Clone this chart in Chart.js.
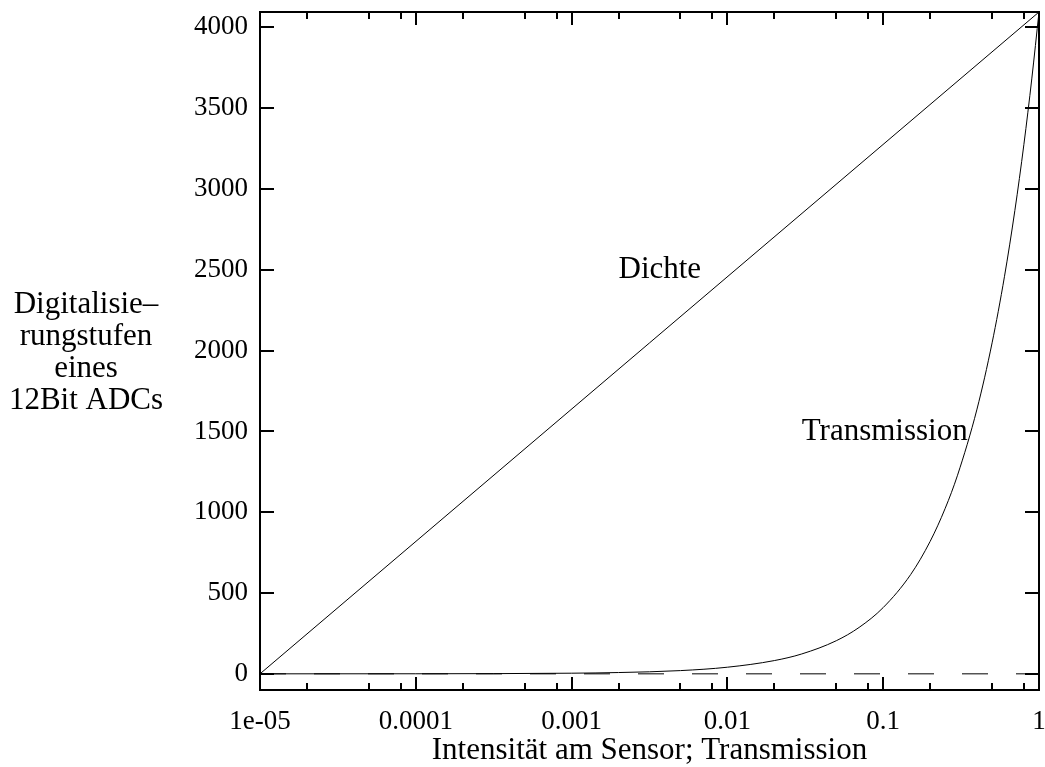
<!DOCTYPE html>
<html>
<head>
<meta charset="utf-8">
<script src="https://cdn.jsdelivr.net/npm/chart.js@4"></script>
<style>
    html, body { margin: 0; padding: 0; background: #fff; }
    #wrap { width: 1045px; height: 767px; }
</style>
</head>
<body>
<div id="wrap"><canvas id="chart" width="1045" height="767"></canvas></div>
<script>
// Axis ticks
const xTicks = [1e-5, 2e-5, 5e-5, 8e-5, 1e-4, 2e-4, 5e-4, 8e-4, 1e-3, 2e-3, 5e-3, 8e-3,
                1e-2, 2e-2, 5e-2, 8e-2, 1e-1, 2e-1, 5e-1, 8e-1, 1];
const xMajor = [1e-5, 1e-4, 1e-3, 1e-2, 1e-1, 1];
const xTickLabels = ['1e-05', '0.0001', '0.001', '0.01', '0.1', '1'];
const yTicks = [0, 500, 1000, 1500, 2000, 2500, 3000, 3500, 4000];

// Dichte (straight line on the log axis)
const dichteX = [1e-5, 1];
const dichteY = [0, 4095];

// Transmission, values
const transX = [1e-5, 1e-4, 1e-3, 0.002, 0.005, 0.01, 0.02, 0.03, 0.05, 0.07, 0.1,
                0.15, 0.2, 0.25, 0.3, 0.4, 0.5, 0.6, 0.7, 0.8, 0.9, 1];
const transY = [0, 0.4, 4, 8, 20, 41, 82, 123, 205, 287, 410,
                614, 819, 1024, 1229, 1638, 2048, 2457, 2867, 3276, 3686, 4095];

// zero line
const zeroX = [1e-5, 1];
const zeroY = [0, 0];

const yTitleLines = ['Digitalisie\u2013', 'rungstufen', 'eines', '12Bit ADCs'];
const curveLabels = [
    { text: 'Dichte', x: 0.002, y: 2500 },
    { text: 'Transmission', x: 0.03, y: 1500 }
];

const FONT = '"Liberation Serif", "DejaVu Serif", serif';
const FS_TICK = 27;
const FS_TEXT = 31;

function pts(xs, ys) {
    return xs.map((x, i) => ({ x: x, y: ys[i] }));
}

const framePlugin = {
    id: 'frame',
    afterDraw(chart) {
        const ctx = chart.ctx;
        const a = chart.chartArea;
        const xs = chart.scales.x;
        const ys = chart.scales.y;
        ctx.save();
        ctx.strokeStyle = '#000';
        ctx.lineWidth = 2;
        ctx.strokeRect(a.left, a.top, a.right - a.left, a.bottom - a.top);

        ctx.beginPath();
        xs.ticks.forEach(t => {
            const px = Math.round(xs.getPixelForValue(t.value));
            const len = xMajor.includes(t.value) ? 13 : 7;
            ctx.moveTo(px, a.bottom);
            ctx.lineTo(px, a.bottom - len);
            ctx.moveTo(px, a.top);
            ctx.lineTo(px, a.top + len);
        });
        ys.ticks.forEach(t => {
            const py = Math.round(ys.getPixelForValue(t.value));
            ctx.moveTo(a.left, py);
            ctx.lineTo(a.left + 14, py);
            ctx.moveTo(a.right, py);
            ctx.lineTo(a.right - 14, py);
        });
        ctx.stroke();

        // curve labels
        ctx.fillStyle = '#000';
        ctx.font = FS_TEXT + 'px ' + FONT;
        ctx.textAlign = 'left';
        ctx.textBaseline = 'middle';
        curveLabels.forEach(l => {
            ctx.fillText(l.text, xs.getPixelForValue(l.x), ys.getPixelForValue(l.y));
        });

        // y axis title, horizontal lines
        ctx.textAlign = 'center';
        yTitleLines.forEach((s, i) => {
            ctx.fillText(s, 86, 305 + i * 32);
        });
        ctx.restore();
    }
};

new Chart(document.getElementById('chart'), {
    type: 'line',
    data: {
        datasets: [
            {
                label: 'Dichte',
                data: pts(dichteX, dichteY),
                borderColor: '#000',
                borderWidth: 1,
                pointRadius: 0,
                fill: false
            },
            {
                label: 'Transmission',
                data: pts(transX, transY),
                borderColor: '#000',
                borderWidth: 1,
                pointRadius: 0,
                cubicInterpolationMode: 'monotone',
                fill: false
            },
            {
                label: 'zero',
                data: pts(zeroX, zeroY),
                borderColor: '#000',
                borderWidth: 1,
                borderDash: [26, 28],
                pointRadius: 0,
                fill: false
            }
        ]
    },
    options: {
        responsive: false,
        animation: false,
        events: [],
        layout: { padding: { left: 0, right: 6, top: 12, bottom: 0 } },
        plugins: {
            legend: { display: false },
            tooltip: { enabled: false }
        },
        scales: {
            x: {
                type: 'logarithmic',
                min: 1e-5,
                max: 1,
                afterBuildTicks: scale => {
                    scale.ticks = xTicks.map(v => ({ value: v }));
                },
                afterFit: scale => {
                    scale.height = 77;
                    scale.paddingLeft = 0;
                    scale.paddingRight = 0;
                },
                grid: { display: false, drawTicks: false },
                border: { display: false },
                ticks: {
                    autoSkip: false,
                    maxRotation: 0,
                    padding: 16,
                    color: '#000',
                    font: { family: FONT, size: FS_TICK },
                    callback: value => {
                        const i = xMajor.indexOf(value);
                        return i >= 0 ? xTickLabels[i] : '';
                    }
                },
                title: {
                    display: true,
                    text: 'Intensität am Sensor; Transmission',
                    color: '#000',
                    font: { family: FONT, size: FS_TEXT },
                    padding: { top: 0, bottom: -2 }
                }
            },
            y: {
                type: 'linear',
                min: -100,
                max: 4095,
                afterBuildTicks: scale => {
                    scale.ticks = yTicks.map(v => ({ value: v }));
                },
                afterFit: scale => {
                    scale.width = 260;
                    scale.paddingTop = 0;
                    scale.paddingBottom = 0;
                },
                grid: { display: false, drawTicks: false },
                border: { display: false },
                ticks: {
                    padding: 12,
                    color: '#000',
                    font: { family: FONT, size: FS_TICK },
                    callback: value => String(value)
                }
            }
        }
    },
    plugins: [framePlugin]
});
</script>
</body>
</html>
